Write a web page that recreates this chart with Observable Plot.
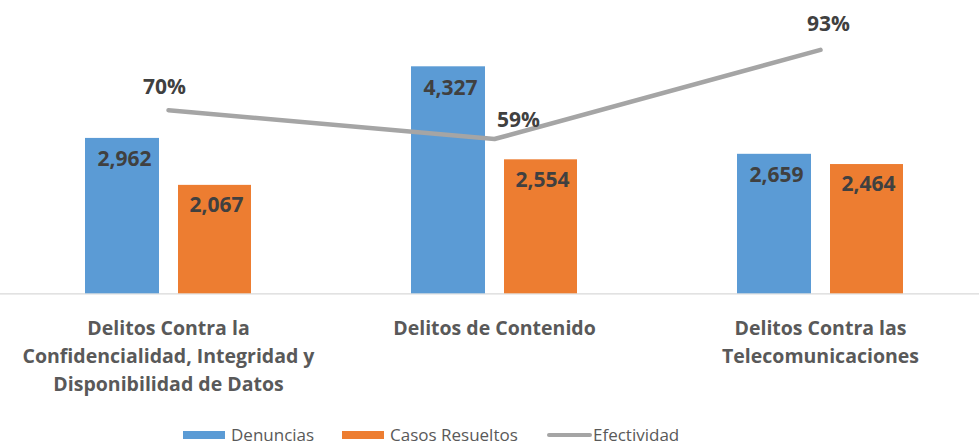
<!DOCTYPE html>
<html>
<head>
<meta charset="utf-8">
<script src="https://cdn.jsdelivr.net/npm/d3@7"></script>
<script src="https://cdn.jsdelivr.net/npm/@observablehq/plot@0.6"></script>
<style>
  html, body { margin: 0; padding: 0; background: #ffffff; }
  #chart { width: 979px; height: 446px; position: relative; overflow: hidden; font-family: "Open Sans", sans-serif; }
  #legend { position: absolute; left: 0; top: 424px; height: 22px; width: 979px; }
  .item { position: absolute; top: 0; height: 22px; line-height: 22px; display: flex; align-items: center; font-size: 17px; color: #595959; white-space: nowrap; }
  .sw { display: inline-block; width: 42px; height: 8px; margin-right: 6px; }
  .ln { display: inline-block; width: 45px; height: 4.5px; border-radius: 3px; margin-right: 1px; }
</style>
</head>
<body>
<div id="chart"><div id="legend"></div></div>
<script>
const categories = [
  "Delitos Contra la Confidencialidad, Integridad y Disponibilidad de Datos",
  "Delitos de Contenido",
  "Delitos Contra las Telecomunicaciones"
];
const categoryLabels = [
  "Delitos Contra la\nConfidencialidad, Integridad y\nDisponibilidad de Datos",
  "Delitos de Contenido",
  "Delitos Contra las\nTelecomunicaciones"
];
const denuncias = [2962, 4327, 2659];
const casosResueltos = [2067, 2554, 2464];
const efectividad = [70, 59, 93];
const seriesNames = ["Denuncias", "Casos Resueltos", "Efectividad"];

const blue = "#5B9BD5", orange = "#ED7D31", gray = "#A5A5A5";
const data = categories.map((c, i) => ({
  category: c, label: categoryLabels[i],
  denuncias: denuncias[i], resueltos: casosResueltos[i], efectividad: efectividad[i]
}));
const fmt = d3.format(",");
// secondary axis 0–100% shares the plot height of primary 0–5000
const pctToY = p => p / 100 * 5000;

const labelStyle = { fontFamily: "Open Sans", fontWeight: "bold", fontSize: 21, fill: "#404040" };

const chart = Plot.plot({
  width: 979,
  height: 414,
  marginLeft: 0, marginRight: 0, marginTop: 0, marginBottom: 0,
  style: { fontFamily: "Open Sans", background: "white" },
  x: { type: "band", domain: categories, range: [4, 983.6], padding: 0, axis: null },
  y: { domain: [0, 5000], range: [293.3, 31], axis: null },
  marks: [
    Plot.ruleY([0], { stroke: "#D9D9D9", strokeWidth: 1.3 }),
    Plot.barY(data, { x: "category", y: "denuncias", fill: blue, insetLeft: 80, insetRight: 172 }),
    Plot.barY(data, { x: "category", y: "resueltos", fill: orange, insetLeft: 173, insetRight: 80 }),
    Plot.line(data, { x: "category", y: d => pctToY(d.efectividad), stroke: gray, strokeWidth: 4.5, strokeLinecap: "round", strokeLinejoin: "round" }),
    Plot.text(data, { x: "category", y: "denuncias", text: d => fmt(d.denuncias), dx: -44, dy: 21, ...labelStyle }),
    Plot.text(data, { x: "category", y: "resueltos", text: d => fmt(d.resueltos), dx: 48, dy: 20, ...labelStyle }),
    Plot.text([data[0]], { x: "category", y: d => pctToY(d.efectividad), text: d => d.efectividad + "%", dx: -4, dy: -23, ...labelStyle }),
    Plot.text([data[1]], { x: "category", y: d => pctToY(d.efectividad), text: d => d.efectividad + "%", dx: 24, dy: -19, ...labelStyle }),
    Plot.text([data[2]], { x: "category", y: d => pctToY(d.efectividad), text: d => d.efectividad + "%", dx: 8, dy: -26, ...labelStyle }),
    Plot.text(data, { x: "category", y: 0, text: "label", lineAnchor: "top", dy: 21, lineHeight: 1.44, fontFamily: "Open Sans", fontWeight: "bold", fontSize: 19.5, fill: "#595959" })
  ]
});
document.getElementById("chart").prepend(chart);

const legend = document.getElementById("legend");
const legendItems = [
  { name: seriesNames[0], left: 183, kind: "sw", color: blue },
  { name: seriesNames[1], left: 342, kind: "sw", color: orange },
  { name: seriesNames[2], left: 547, kind: "ln", color: gray }
];
legendItems.forEach(it => {
  const div = document.createElement("div");
  div.className = "item";
  div.style.left = it.left + "px";
  const s = document.createElement("span");
  s.className = it.kind;
  s.style.background = it.color;
  div.appendChild(s);
  div.appendChild(document.createTextNode(it.name));
  legend.appendChild(div);
});
</script>
</body>
</html>
